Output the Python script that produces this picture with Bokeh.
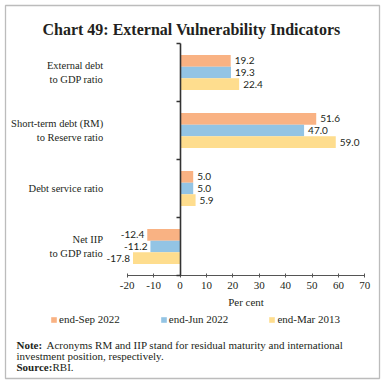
from bokeh.plotting import figure
from bokeh.models import (ColumnDataSource, Range1d, LinearAxis, FixedTicker,
                          Label, Legend, LegendItem, BoxAnnotation)
from bokeh.transform import dodge
from bokeh.core.properties import value, field
from bokeh.embed import file_html
from bokeh.resources import INLINE

# ---------------- data ----------------
categories = [
    "External debt\nto GDP ratio",
    "Short-term debt (RM)\nto Reserve ratio",
    "Debt service ratio",
    "Net IIP\nto GDP ratio",
]
series_names = ["end-Sep 2022", "end-Jun 2022", "end-Mar 2013"]
sep_2022 = [19.2, 51.6, 5.0, -12.4]
jun_2022 = [19.3, 47.0, 5.0, -11.2]
mar_2013 = [22.4, 59.0, 5.9, -17.8]
x_ticks = [-20, -10, 0, 10, 20, 30, 40, 50, 60, 70]
x_label = "Per cent"

title_text = "Chart 49: External Vulnerability Indicators"
note_head = "Note:"
note_line1 = "Acronyms RM and IIP stand for residual maturity and international"
note_line2 = "investment position, respectively."
source_head = "Source:"
source_body = "RBI."

# ---------------- style / geometry ----------------
colors = ["#F9B283", "#93C4E4", "#FEDD8E"]
offsets = [0.2, 0.0, -0.2]
SERIF = "Liberation Serif"
TXT = "#231f20"
W, H = 384, 384
X_ZERO_PX, PX_PER_X = 179.5, 2.64     # page pixel of x=0, pixels per x unit
Y_ZERO_PX, PX_PER_Y = 275.0, 58.0     # page pixel of y=0, pixels per category band


def dx(px):
    return (px - X_ZERO_PX) / PX_PER_X


def dy(py):
    return (Y_ZERO_PX - py) / PX_PER_Y


n = len(categories)
cat_pos = [n - 0.5 - i for i in range(n)]   # top-to-bottom category centres

# the frame covers the whole canvas so nothing drawn inside it gets clipped
p = figure(width=W, height=H,
           x_range=Range1d(dx(0), dx(W)), y_range=Range1d(dy(H), dy(0)),
           x_axis_location=None, y_axis_location=None,
           output_backend="svg", toolbar_location=None,
           min_border=0, min_border_left=0, min_border_right=0,
           min_border_top=0, min_border_bottom=0)
p.outline_line_color = None
p.xgrid.grid_line_color = None
p.ygrid.grid_line_color = None
p.background_fill_color = "white"
p.border_fill_color = "white"

# x axis drawn at y = 0
xa = LinearAxis(fixed_location=0, ticker=FixedTicker(ticks=x_ticks),
                bounds=(x_ticks[0], x_ticks[-1]),
                major_label_overrides={v: str(v) for v in x_ticks},
                axis_label=x_label, axis_label_text_font=SERIF,
                axis_label_text_font_size="11px", axis_label_text_font_style="normal",
                axis_label_text_color=TXT, axis_label_standoff=4,
                major_label_text_font=SERIF, major_label_text_font_size="11px",
                major_label_text_color=TXT, major_label_standoff=4,
                major_tick_in=2, major_tick_out=2, minor_tick_line_color=None,
                axis_line_color="#555555", major_tick_line_color="#555555")
p.add_layout(xa, "below")

# category labels, to the left of x = -20
ya = LinearAxis(fixed_location=x_ticks[0], ticker=FixedTicker(ticks=cat_pos),
                major_label_overrides={pos: c for pos, c in zip(cat_pos, categories)},
                major_tick_line_color=None, axis_line_color=None,
                major_tick_in=0, major_tick_out=0, minor_tick_line_color=None,
                major_label_standoff=24, major_label_text_font=SERIF,
                major_label_text_font_size="10.5px", major_label_text_color=TXT)
p.add_layout(ya, "left")

# axis line at zero with ticks at category boundaries
edges = list(range(n + 1))
ea = LinearAxis(fixed_location=0, ticker=FixedTicker(ticks=edges),
                bounds=(0, n),
                major_label_overrides={e: "" for e in edges},
                major_tick_in=4, major_tick_out=0, minor_tick_line_color=None,
                major_label_standoff=0,
                axis_line_width=1.6, axis_line_color="#333333",
                major_tick_line_width=1.6, major_tick_line_color="#333333")
p.add_layout(ea, "right")

items = []
for name, vals, color, off in zip(series_names, [sep_2022, jun_2022, mar_2013], colors, offsets):
    src = ColumnDataSource(dict(
        pos=cat_pos, val=vals,
        label=[f"{v:.1f}" for v in vals],
        align=["left" if v >= 0 else "right" for v in vals],
        xoff=[4 if v >= 0 else -3 for v in vals],
    ))
    r = p.hbar(y=dodge("pos", off), left=0, right="val", height=0.2,
               fill_color=color, line_color=None, source=src)
    p.text(x="val", y=dodge("pos", off), text="label",
           text_align=field("align"), x_offset=field("xoff"), text_baseline="middle",
           text_font=value("Lato"), text_font_size="10px", text_color=TXT, source=src)
    items.append(LegendItem(label=name, renderers=[r]))

legend = Legend(items=items, orientation="horizontal", location=(50, H - 325),
                glyph_width=7, glyph_height=7, label_standoff=2, spacing=40,
                padding=0, margin=0, border_line_color=None, background_fill_alpha=0,
                label_text_font=SERIF, label_text_font_size="11px", label_text_color=TXT,
                label_height=12)
p.add_layout(legend, "center")

p.add_layout(Label(x=dx(191), y=dy(29), text=title_text, text_align="center",
                   text_baseline="alphabetic", text_font=SERIF, text_font_style="bold",
                   text_font_size="16px", text_color=TXT))

for txt, px, py, bold in [(note_head, 16, 344, True), (note_line1, 46, 344, False),
                          (note_line2, 16, 355, False),
                          (source_head, 16, 366, True), (source_body, 52, 366, False)]:
    p.add_layout(Label(x=dx(px), y=dy(py), text=txt, text_align="left",
                       text_baseline="alphabetic", text_font=SERIF,
                       text_font_style="bold" if bold else "normal",
                       text_font_size="11px", text_color=TXT))

p.add_layout(BoxAnnotation(left=dx(5), right=dx(379), top=dy(5), bottom=dy(378),
                           fill_alpha=0, line_color="#222222", line_width=1.3))

open("out.html", "w").write(file_html(p, INLINE))
